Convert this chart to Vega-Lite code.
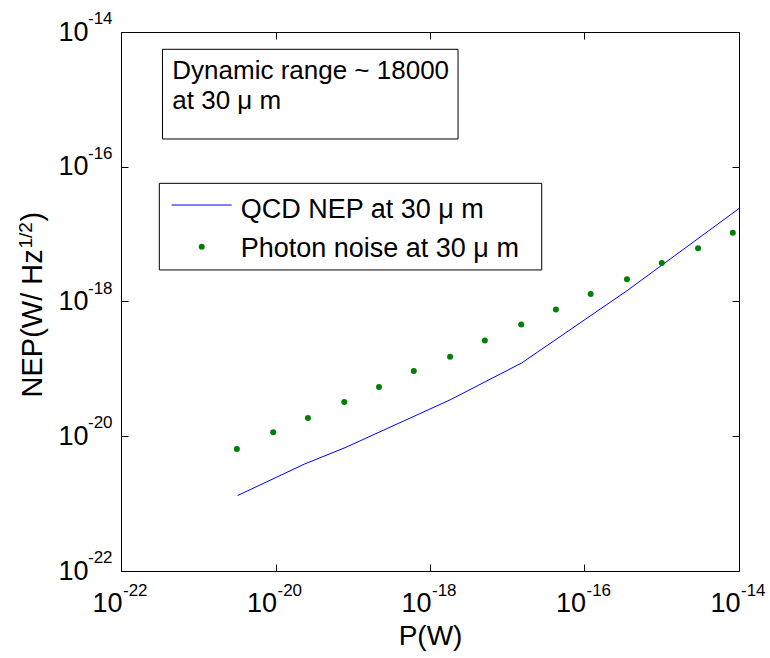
{
  "$schema": "https://vega.github.io/schema/vega-lite/v6.json",
  "width": 618,
  "height": 539,
  "autosize": {"type": "none"},
  "padding": {"left": 121, "top": 32, "right": 31, "bottom": 87},
  "background": "white",
  "config": {
    "view": {"stroke": "black", "strokeWidth": 1},
    "font": "Liberation Sans",
    "axis": {
      "domain": false, "grid": false,
      "tickColor": "black", "tickWidth": 1, "tickSize": -7,
      "labelColor": "black", "labelFont": "Liberation Sans", "labelFontSize": 27,
      "labelFlush": false, "labelOverlap": false,
      "titleColor": "black", "titleFont": "Liberation Sans", "titleFontWeight": "normal"
    }
  },
  "datasets": {
    "photon": [
      {"P": 3.162e-21, "NEP": 6.457e-21},
      {"P": 9.333e-21, "NEP": 1.148e-20},
      {"P": 2.630e-20, "NEP": 1.862e-20},
      {"P": 7.762e-20, "NEP": 3.236e-20},
      {"P": 2.188e-19, "NEP": 5.370e-20},
      {"P": 6.166e-19, "NEP": 9.333e-20},
      {"P": 1.820e-18, "NEP": 1.514e-19},
      {"P": 5.129e-18, "NEP": 2.630e-19},
      {"P": 1.514e-17, "NEP": 4.571e-19},
      {"P": 4.266e-17, "NEP": 7.586e-19},
      {"P": 1.202e-16, "NEP": 1.288e-18},
      {"P": 3.548e-16, "NEP": 2.138e-18},
      {"P": 1.000e-15, "NEP": 3.715e-18},
      {"P": 2.951e-15, "NEP": 6.166e-18},
      {"P": 8.318e-15, "NEP": 1.047e-17}
    ],
    "qcd": [
      {"P": 3.236e-21, "NEP": 1.318e-21},
      {"P": 2.399e-20, "NEP": 3.890e-21},
      {"P": 7.943e-20, "NEP": 6.761e-21},
      {"P": 1.820e-18, "NEP": 3.467e-20},
      {"P": 1.549e-17, "NEP": 1.230e-19},
      {"P": 3.548e-16, "NEP": 1.445e-18},
      {"P": 1e-14, "NEP": 2.399e-17}
    ],
    "ticks": [
      {"v": 1e-22, "e": "-22"},
      {"v": 1e-20, "e": "-20"},
      {"v": 1e-18, "e": "-18"},
      {"v": 1e-16, "e": "-16"},
      {"v": 1e-14, "e": "-14"}
    ]
  },
  "layer": [
    {
      "data": {"name": "qcd"},
      "mark": {"type": "line", "color": "#0000ff", "strokeWidth": 1},
      "encoding": {
        "x": {"field": "P", "type": "quantitative", "scale": {"type": "log", "domain": [1e-22, 1e-14], "nice": false},
          "axis": {"orient": "bottom", "values": [1e-22, 1e-20, 1e-18, 1e-16, 1e-14], "labelExpr": "'10'", "labelAlign": "right", "labelBaseline": "alphabetic", "labelPadding": 47, "labelOffset": 1, "title": "P(W)", "titleFontSize": 28, "titlePadding": 6}},
        "y": {"field": "NEP", "type": "quantitative", "scale": {"type": "log", "domain": [1e-22, 1e-14], "nice": false},
          "axis": {"orient": "left", "values": [1e-22, 1e-20, 1e-18, 1e-16, 1e-14], "labelExpr": "'10'", "labelAlign": "right", "labelBaseline": "middle", "labelPadding": 40, "title": null}}
      }
    },
    {
      "data": {"name": "photon"},
      "mark": {"type": "circle", "color": "#008000", "size": 36, "opacity": 1},
      "encoding": {
        "x": {"field": "P", "type": "quantitative", "axis": null},
        "y": {"field": "NEP", "type": "quantitative", "axis": null}
      }
    },
    {
      "data": {"name": "ticks"},
      "mark": {"type": "text", "align": "left", "baseline": "alphabetic", "dx": 2, "dy": 25, "fontSize": 17, "font": "Liberation Sans", "color": "black"},
      "encoding": {
        "x": {"field": "v", "type": "quantitative", "axis": null},
        "y": {"datum": 1e-22, "type": "quantitative", "axis": null},
        "text": {"field": "e"}
      }
    },
    {
      "data": {"name": "ticks"},
      "mark": {"type": "text", "align": "left", "baseline": "alphabetic", "dx": -33, "dy": -8, "fontSize": 17, "font": "Liberation Sans", "color": "black"},
      "encoding": {
        "x": {"datum": 1e-22, "type": "quantitative", "axis": null},
        "y": {"field": "v", "type": "quantitative", "axis": null},
        "text": {"field": "e"}
      }
    },
    {
      "data": {"values": [{}]},
      "mark": {"type": "rect", "fill": "white", "stroke": "black", "strokeWidth": 1},
      "encoding": {
        "x": {"datum": 3.443e-22, "type": "quantitative", "axis": null},
        "x2": {"datum": 2.305e-18},
        "y": {"datum": 5.536e-15, "type": "quantitative", "axis": null},
        "y2": {"datum": 2.582e-16}
      }
    },
    {
      "data": {"values": [{}]},
      "mark": {"type": "text", "align": "left", "baseline": "alphabetic", "fontSize": 26, "lineHeight": 30, "font": "Liberation Sans", "color": "black"},
      "encoding": {
        "x": {"datum": 4.613e-22, "type": "quantitative", "axis": null},
        "y": {"datum": 1.986e-15, "type": "quantitative", "axis": null},
        "text": {"value": ["Dynamic range ~ 18000", "at 30 μ m"]}
      }
    },
    {
      "data": {"values": [{}]},
      "mark": {"type": "rect", "fill": "white", "stroke": "black", "strokeWidth": 1},
      "encoding": {
        "x": {"datum": 3.133e-22, "type": "quantitative", "axis": null},
        "x2": {"datum": 2.793e-17},
        "y": {"datum": 5.675e-17, "type": "quantitative", "axis": null},
        "y2": {"datum": 2.938e-18}
      }
    },
    {
      "data": {"values": [{}]},
      "mark": {"type": "rule", "color": "#0000ff", "strokeWidth": 1},
      "encoding": {
        "x": {"datum": 4.529e-22, "type": "quantitative", "axis": null},
        "x2": {"datum": 2.710e-21},
        "y": {"datum": 2.704e-17, "type": "quantitative", "axis": null}
      }
    },
    {
      "data": {"values": [{}]},
      "mark": {"type": "circle", "color": "#008000", "size": 36, "opacity": 1},
      "encoding": {
        "x": {"datum": 1.109e-21, "type": "quantitative", "axis": null},
        "y": {"datum": 6.501e-18, "type": "quantitative", "axis": null}
      }
    },
    {
      "data": {"values": [{}]},
      "mark": {"type": "text", "align": "left", "baseline": "alphabetic", "fontSize": 27, "font": "Liberation Sans", "color": "black"},
      "encoding": {
        "x": {"datum": 3.542e-21, "type": "quantitative", "axis": null},
        "y": {"datum": 1.754e-17, "type": "quantitative", "axis": null},
        "text": {"value": "QCD NEP at 30 μ m"}
      }
    },
    {
      "data": {"values": [{}]},
      "mark": {"type": "text", "align": "left", "baseline": "alphabetic", "fontSize": 27, "font": "Liberation Sans", "color": "black"},
      "encoding": {
        "x": {"datum": 3.542e-21, "type": "quantitative", "axis": null},
        "y": {"datum": 4.529e-18, "type": "quantitative", "axis": null},
        "text": {"value": "Photon noise at 30 μ m"}
      }
    },
    {
      "data": {"values": [{}]},
      "mark": {"type": "text", "align": "left", "baseline": "alphabetic", "angle": 270, "dx": -96, "dy": -79, "fontSize": 29, "font": "Liberation Sans", "color": "black"},
      "encoding": {
        "x": {"datum": 1e-22, "type": "quantitative", "axis": null},
        "y": {"datum": 1e-18, "type": "quantitative", "axis": null},
        "text": {"value": "NEP(W/ Hz"}
      }
    },
    {
      "data": {"values": [{}]},
      "mark": {"type": "text", "align": "left", "baseline": "alphabetic", "angle": 270, "dx": 53, "dy": -89, "fontSize": 19, "font": "Liberation Sans", "color": "black"},
      "encoding": {
        "x": {"datum": 1e-22, "type": "quantitative", "axis": null},
        "y": {"datum": 1e-18, "type": "quantitative", "axis": null},
        "text": {"value": "1/2"}
      }
    },
    {
      "data": {"values": [{}]},
      "mark": {"type": "text", "align": "left", "baseline": "alphabetic", "angle": 270, "dx": 80, "dy": -79, "fontSize": 29, "font": "Liberation Sans", "color": "black"},
      "encoding": {
        "x": {"datum": 1e-22, "type": "quantitative", "axis": null},
        "y": {"datum": 1e-18, "type": "quantitative", "axis": null},
        "text": {"value": ")"}
      }
    },
    {
      "data": {"name": "ticks"},
      "mark": {"type": "point", "opacity": 0},
      "encoding": {
        "x": {"field": "v", "type": "quantitative",
          "axis": {"orient": "top", "values": [1e-22, 1e-20, 1e-18, 1e-16, 1e-14], "labels": false, "title": null}},
        "y": {"field": "v", "type": "quantitative",
          "axis": {"orient": "right", "values": [1e-22, 1e-20, 1e-18, 1e-16, 1e-14], "labels": false, "title": null}}
      }
    }
  ],
  "resolve": {"axis": {"x": "independent", "y": "independent"}}
}
